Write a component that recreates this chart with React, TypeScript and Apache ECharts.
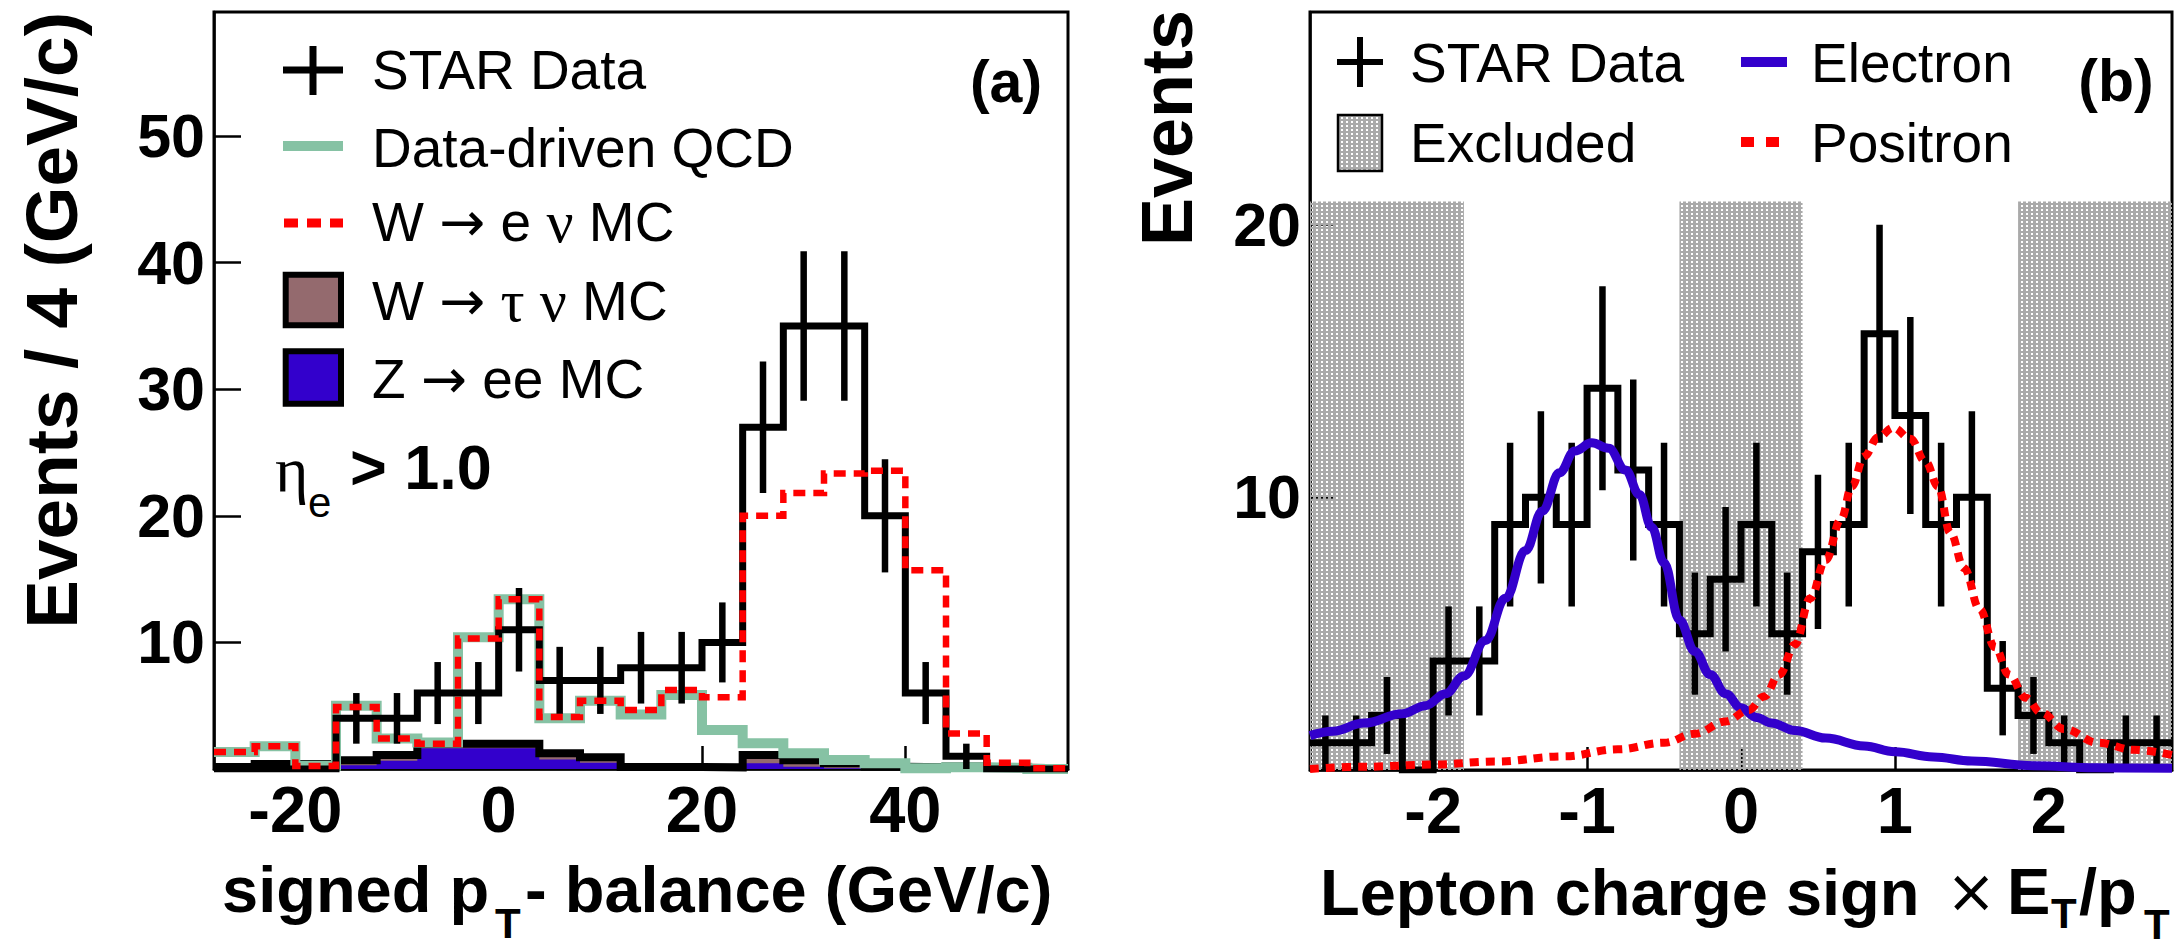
import React, { useEffect, useRef } from 'react';
import * as echarts from 'echarts';

const FONT = "'Liberation Sans', Arial, Helvetica, sans-serif";
const SERIF = "'Liberation Serif', 'DejaVu Serif', serif";
const SYM = "'DejaVu Sans', sans-serif";

// ---------- Panel (a): signed pT-balance ----------
const aBinStart = -28;
const aBinWidth = 4;
const aStarData = [0, 0, 0, 4, 4, 6, 6, 11, 7, 7, 8, 8, 10, 27, 35, 35, 20, 6, 1, 0, 0];
const aStarErr = [0, 0, 0, 2, 2, 2.45, 2.45, 3.3, 2.65, 2.65, 2.83, 2.83, 3.16, 5.2, 5.9, 5.9, 4.47, 2.45, 1, 0, 0];
const aQCD = [1.35, 1.8, 0.25, 5.0, 2.4, 2.1, 10.4, 13.4, 4.0, 5.4, 4.3, 5.85, 3.08, 2.03, 1.24, 0.71, 0.45, 0.05, 0.13, 0.1, 0.0];
const aWenuTotal = [1.35, 1.8, 0.24, 4.9, 2.4, 2.0, 10.3, 13.4, 4.1, 5.4, 4.66, 6.24, 5.66, 20.0, 21.8, 23.35, 23.57, 15.7, 2.8, 0.5, 0.05];
const aTauTotal = [0.15, 0.4, 0.4, 0.7, 1.1, 2.0, 2.0, 2.0, 1.24, 0.92, 0.15, 0.15, 0.13, 1.1, 0.7, 0.45, 0.18, 0.13, 0.2, 0.1, 0.05];
const aZee = [0.05, 0.05, 0.05, 0.3, 0.65, 1.63, 1.63, 1.63, 0.76, 0.5, 0, 0, 0, 0.45, 0.18, 0.05, 0, 0, 0, 0, 0];
const aXTicks = [-20, 0, 20, 40];
const aYTicks = [10, 20, 30, 40, 50];

// ---------- Panel (b): charge sign x ET/pT ----------
const bBinStart = -2.8;
const bBinWidth = 0.2;
const bStarData = [1, 1, 2, 0, 4, 4, 9, 10, 9, 14, 11, 9, 5, 7, 9, 5, 8, 9, 16, 13, 9, 10, 3, 2, 1, 0, 1, 1];
const bStarErr = [1, 1, 1.41, 0, 2, 2, 3, 3.16, 3, 3.74, 3.32, 3, 2.24, 2.65, 3, 2.24, 2.83, 3, 4, 3.61, 3, 3.16, 1.73, 1.41, 1, 0, 1, 1];
const bElectronX = [-2.8, -2.65, -2.45, -2.2, -2.05, -1.92, -1.8, -1.66, -1.53, -1.4, -1.29, -1.18, -1.08, -0.97, -0.86, -0.75, -0.66, -0.58, -0.5, -0.4, -0.3, -0.2, -0.1, 0.0, 0.1, 0.2, 0.35, 0.55, 0.8, 1.0, 1.25, 1.5, 1.9, 2.3, 2.8];
const bElectronY = [1.26, 1.42, 1.72, 2.06, 2.36, 2.8, 3.45, 4.75, 6.3, 8.05, 9.5, 10.9, 11.7, 12.0, 11.8, 11.0, 10.1, 8.9, 7.6, 5.5, 4.35, 3.5, 2.8, 2.28, 1.93, 1.72, 1.45, 1.17, 0.88, 0.67, 0.48, 0.33, 0.16, 0.08, 0.06];
const bPositronX = [-2.8, -2.45, -2.0, -1.6, -1.15, -0.8, -0.5, -0.3, -0.1, 0.05, 0.15, 0.25, 0.35, 0.45, 0.55, 0.65, 0.72, 0.8, 0.89, 0.99, 1.1, 1.2, 1.28, 1.36, 1.45, 1.55, 1.65, 1.74, 1.85, 1.95, 2.1, 2.32, 2.55, 2.8];
const bPositronY = [0.04, 0.12, 0.2, 0.31, 0.5, 0.76, 1.0, 1.33, 1.78, 2.2, 2.7, 3.5, 4.6, 6.3, 7.7, 9.2, 10.4, 11.5, 12.2, 12.55, 12.15, 11.3, 10.4, 8.7, 7.4, 5.9, 4.5, 3.5, 2.65, 2.1, 1.5, 1.0, 0.74, 0.55];
const bExcludedLo = [-2.8, -0.4, 1.8];
const bExcludedHi = [-1.8, 0.4, 2.8];
const bExcludedTop = 20.85;
const bXTicks = [-2, -1, 0, 1, 2];
const bYTicks = [10, 20];

// ---------- helpers ----------
const stepPoints = (start: number, width: number, vals: number[]) => {
  const pts: number[][] = [];
  vals.forEach((v, i) => {
    pts.push([start + i * width, v]);
    pts.push([start + (i + 1) * width, v]);
  });
  return pts;
};
const errPoints = (start: number, width: number, vals: number[], errs: number[]) =>
  vals.map((v, i) => [start + (i + 0.5) * width, v, errs[i]]).filter((d) => d[2] > 0);
const zip = (xs: number[], ys: number[]) => xs.map((x, i) => [x, ys[i]]);

const errRender = (params: any, api: any) => {
  const c = api.value(0);
  const v = api.value(1);
  const e = api.value(2);
  const p1 = api.coord([c, Math.max(0, v - e)]);
  const p2 = api.coord([c, v + e]);
  return {
    type: 'line',
    shape: { x1: p1[0], y1: p1[1], x2: p2[0], y2: p2[1] },
    style: { stroke: '#000', lineWidth: 6.5 },
  };
};

// dotted grey fill pattern (grey with transparent holes)
const makePattern = (): any => {
  try {
    const c = document.createElement('canvas');
    c.width = 5;
    c.height = 4;
    const ctx = c.getContext('2d');
    if (!ctx) return '#bcbcbc';
    ctx.fillStyle = '#aaaaaa';
    ctx.fillRect(0, 0, 5, 4);
    ctx.clearRect(1, 1, 2, 2);
    return { image: c, repeat: 'repeat' };
  } catch (e) {
    return '#bcbcbc';
  }
};

const xAxisCfg = (gridIndex: number, min: number, max: number, ticks: number[]) => ({
  type: 'value',
  gridIndex,
  min,
  max,
  axisLine: { show: true, onZero: false, lineStyle: { color: '#000', width: 2.5 } },
  axisTick: { show: true, inside: true, length: 23, customValues: ticks, lineStyle: { color: '#000', width: 2.5 } },
  axisLabel: {
    show: true,
    customValues: ticks,
    margin: 8,
    color: '#000',
    fontSize: 65,
    fontWeight: 'bold',
    fontFamily: FONT,
  },
  splitLine: { show: false },
});
const yAxisCfg = (gridIndex: number, max: number, ticks: number[], tickLen: number) => ({
  type: 'value',
  gridIndex,
  min: 0,
  max,
  interval: 10,
  axisLine: { show: true, onZero: false, lineStyle: { color: '#000', width: 2.5 } },
  axisTick: { show: true, inside: true, length: tickLen, customValues: ticks, lineStyle: { color: '#000', width: 2.5 } },
  axisLabel: {
    show: true,
    customValues: ticks,
    margin: 9,
    color: '#000',
    fontSize: 61,
    fontWeight: 'bold',
    fontFamily: FONT,
  },
  splitLine: { show: false },
});

const txt = (x: number, y: number, text: string, size: number, opts: any = {}) => ({
  type: 'text',
  x,
  y,
  z: 100,
  rotation: opts.rotation || 0,
  style: {
    text,
    fill: '#000',
    fontSize: size,
    fontWeight: opts.weight || 'normal',
    fontFamily: opts.family || FONT,
    align: opts.align || 'left',
    textAlign: opts.align || 'left',
    verticalAlign: 'middle',
    textVerticalAlign: 'middle',
    lineHeight: opts.lineHeight || undefined,
    rich: opts.rich || undefined,
  },
});
const seg = (x1: number, y1: number, x2: number, y2: number, stroke: string, lineWidth: number, lineDash?: number[]) => ({
  type: 'line',
  z: 100,
  shape: { x1, y1, x2, y2 },
  style: { stroke, lineWidth, lineDash: lineDash || null, lineCap: 'butt' },
});

const legendRich = {
  arr: { fontFamily: SYM, fontSize: 55 },
  gr: { fontFamily: SERIF, fontSize: 60 },
};

const GREEN = '#86c2a4';
const RED = '#ff0000';
const ZBLUE = '#3300cc';
const TAU = '#946a6e';

export default function App() {
  const ref = useRef<HTMLDivElement>(null);
  useEffect(() => {
    if (!ref.current) return;
    const SHADE = makePattern();
    const option: any = {
      animation: false,
      backgroundColor: '#fff',
      grid: [
        { left: 214, top: 12, width: 854, height: 757, show: true, borderColor: '#000', borderWidth: 3, backgroundColor: 'transparent' },
        { left: 1310, top: 12, width: 862, height: 758, show: true, borderColor: '#000', borderWidth: 3, backgroundColor: 'transparent' },
      ],
      xAxis: [xAxisCfg(0, -28, 56, aXTicks), xAxisCfg(1, -2.8, 2.8, bXTicks)],
      yAxis: [yAxisCfg(0, 59.8, aYTicks, 27), yAxisCfg(1, 27.8, bYTicks, 23)],
      series: [
        // ---- panel (a) ----
        {
          type: 'line', xAxisIndex: 0, yAxisIndex: 0, z: 2, symbol: 'none', silent: true,
          data: stepPoints(aBinStart, aBinWidth, aTauTotal),
          lineStyle: { width: 0 }, areaStyle: { color: TAU, opacity: 1 },
        },
        {
          type: 'line', xAxisIndex: 0, yAxisIndex: 0, z: 3, symbol: 'none', silent: true,
          data: stepPoints(aBinStart, aBinWidth, aZee),
          lineStyle: { width: 0 }, areaStyle: { color: ZBLUE, opacity: 1 },
        },
        {
          type: 'line', xAxisIndex: 0, yAxisIndex: 0, z: 4, symbol: 'none', silent: true,
          data: stepPoints(aBinStart, aBinWidth, aTauTotal),
          lineStyle: { color: '#000', width: 8, join: 'miter', cap: 'butt' },
        },
        {
          type: 'line', xAxisIndex: 0, yAxisIndex: 0, z: 5, symbol: 'none', silent: true,
          data: stepPoints(aBinStart, aBinWidth, aQCD),
          lineStyle: { color: GREEN, width: 10, join: 'miter', cap: 'butt' },
        },
        {
          type: 'line', xAxisIndex: 0, yAxisIndex: 0, z: 6, symbol: 'none', silent: true,
          data: stepPoints(aBinStart, aBinWidth, aStarData),
          lineStyle: { color: '#000', width: 7, join: 'miter', cap: 'butt' },
        },
        {
          type: 'custom', xAxisIndex: 0, yAxisIndex: 0, z: 7, silent: true,
          data: errPoints(aBinStart, aBinWidth, aStarData, aStarErr),
          encode: { x: 0, y: 1 },
          renderItem: errRender,
        },
        {
          type: 'line', xAxisIndex: 0, yAxisIndex: 0, z: 8, symbol: 'none', silent: true,
          data: stepPoints(aBinStart, aBinWidth, aWenuTotal),
          lineStyle: { color: RED, width: 6.5, type: [12, 8], join: 'miter', cap: 'butt' },
        },
        // ---- panel (b) ----
        {
          type: 'custom', xAxisIndex: 1, yAxisIndex: 1, z: 2, silent: true,
          data: bExcludedLo.map((lo, i) => [lo, bExcludedHi[i], bExcludedTop]),
          encode: { x: [0, 1], y: 2 },
          renderItem: (params: any, api: any) => {
            const p0 = api.coord([api.value(0), api.value(2)]);
            const p1 = api.coord([api.value(1), 0]);
            return {
              type: 'rect',
              shape: { x: p0[0], y: p0[1], width: p1[0] - p0[0], height: p1[1] - p0[1] },
              style: { fill: SHADE },
            };
          },
        },
        {
          type: 'line', xAxisIndex: 1, yAxisIndex: 1, z: 3, symbol: 'none', silent: true,
          data: stepPoints(bBinStart, bBinWidth, bStarData),
          lineStyle: { color: '#000', width: 7, join: 'miter', cap: 'butt' },
        },
        {
          type: 'custom', xAxisIndex: 1, yAxisIndex: 1, z: 4, silent: true,
          data: errPoints(bBinStart, bBinWidth, bStarData, bStarErr),
          encode: { x: 0, y: 1 },
          renderItem: errRender,
        },
        {
          type: 'line', xAxisIndex: 1, yAxisIndex: 1, z: 5, symbol: 'none', silent: true,
          smooth: 0.4, smoothMonotone: 'x',
          data: zip(bElectronX, bElectronY),
          lineStyle: { color: ZBLUE, width: 9 },
        },
        {
          type: 'line', xAxisIndex: 1, yAxisIndex: 1, z: 6, symbol: 'none', silent: true,
          smooth: 0.4, smoothMonotone: 'x',
          data: zip(bPositronX, bPositronY),
          lineStyle: { color: RED, width: 8, type: [9, 7], cap: 'butt' },
        },
      ],
      graphic: [
        // ---- panel (a) legend ----
        seg(283, 70, 343, 70, '#000', 7),
        seg(313, 46, 313, 95, '#000', 7),
        seg(283, 146, 343, 146, GREEN, 10),
        seg(284, 223, 343, 223, RED, 9, [14, 9]),
        { type: 'rect', z: 100, shape: { x: 285.7, y: 274.7, width: 55.3, height: 50.6 }, style: { fill: TAU, stroke: '#000', lineWidth: 6 } },
        { type: 'rect', z: 100, shape: { x: 285.7, y: 351.3, width: 55.3, height: 52.4 }, style: { fill: ZBLUE, stroke: '#000', lineWidth: 6 } },
        txt(372, 70, 'STAR Data', 55),
        txt(372, 148, 'Data-driven QCD', 55),
        txt(372, 222, 'W {arr|\u2192} e {gr|\u03bd} MC', 55, { rich: legendRich }),
        txt(372, 301, 'W {arr|\u2192} {gr|\u03c4 \u03bd} MC', 55, { rich: legendRich }),
        txt(372, 379, 'Z {arr|\u2192} ee MC', 55, { rich: legendRich }),
        txt(1006, 82, '(a)', 59, { weight: 'bold', align: 'center' }),
        txt(275, 469, '\u03b7', 64, { family: SERIF }),
        txt(308, 502, 'e', 42, { lineHeight: 34 }),
        txt(350, 467, '> 1.0', 63, { weight: 'bold' }),
        // ---- panel (a) titles ----
        txt(51, 12, 'Events / 4 (GeV/c)', 73, { weight: 'bold', align: 'right', rotation: Math.PI / 2 }),
        txt(222, 889, 'signed p', 65, { weight: 'bold' }),
        txt(495, 923, 'T', 42, { weight: 'bold', lineHeight: 32 }),
        txt(525, 889, '- balance (GeV/c)', 65, { weight: 'bold' }),
        // ---- panel (b) legend ----
        seg(1337, 62, 1383, 62, '#000', 6),
        seg(1360, 37, 1360, 87, '#000', 6),
        { type: 'rect', z: 100, shape: { x: 1338, y: 115, width: 44, height: 56 }, style: { fill: SHADE, stroke: '#000', lineWidth: 2.5 } },
        txt(1410, 63, 'STAR Data', 55),
        txt(1410, 143, 'Excluded', 55),
        seg(1741, 62, 1787, 62, ZBLUE, 10),
        seg(1741, 142, 1780, 142, RED, 10, [13, 12]),
        txt(1811, 63, 'Electron', 55),
        txt(1811, 143, 'Positron', 55),
        txt(2116, 81, '(b)', 59, { weight: 'bold', align: 'center' }),
        // ---- panel (b) titles ----
        txt(1167, 10, 'Events', 72, { weight: 'bold', align: 'right', rotation: Math.PI / 2 }),
        txt(1320, 892, 'Lepton charge sign', 65, { weight: 'bold' }),
        txt(1946, 891, '\u00d7', 60, { family: SYM, lineHeight: 50 }),
        txt(2007, 891, 'E', 65, { weight: 'bold' }),
        txt(2051, 913, 'T', 42, { weight: 'bold', lineHeight: 32 }),
        txt(2079, 891, '/p', 65, { weight: 'bold' }),
        txt(2144, 924, 'T', 42, { weight: 'bold', lineHeight: 32 }),
      ],
    };
    const chart = echarts.init(ref.current, null, { renderer: 'svg' });
    chart.setOption(option);
    return () => chart.dispose();
  }, []);
  return (
    <div
      ref={ref}
      style={{ position: 'fixed', left: 0, top: 0, width: 2184, height: 949, background: '#fff' }}
    />
  );
}
